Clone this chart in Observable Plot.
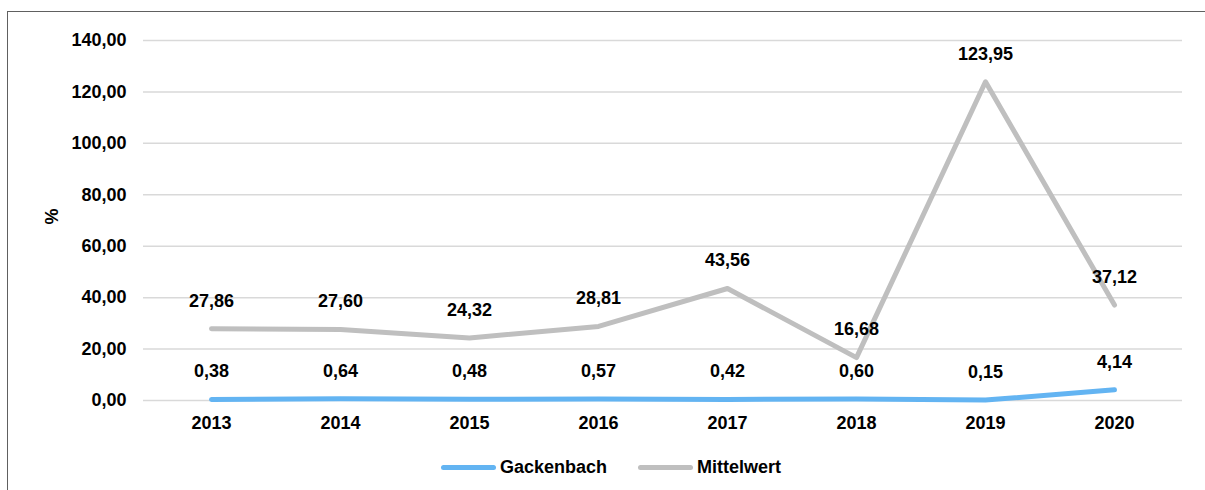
<!DOCTYPE html>
<html>
<head>
<meta charset="utf-8">
<script src="https://cdn.jsdelivr.net/npm/d3@7"></script>
<script src="https://cdn.jsdelivr.net/npm/@observablehq/plot@0.6"></script>
<style>
  html, body { margin: 0; padding: 0; background: #fff; overflow: hidden; }
  body { width: 1205px; height: 490px; position: relative;
         font-family: "Liberation Sans", Arial, sans-serif; }
  #frame { position: absolute; left: 7px; top: 11px; width: 1198px; height: 479px;
           box-shadow: inset 1px 1px 0 #606060; }
  #chart { position: absolute; left: 0; top: 0; }
  #legend { position: absolute; top: 456px; left: 0; width: 1205px; height: 22px; }
  .item { position: absolute; top: 0; display: flex; align-items: center; height: 22px;
          font-weight: bold; font-size: 18px; color: #000; }
  .swatch { width: 55px; height: 5px; border-radius: 3px; margin-right: 4px; }
</style>
</head>
<body>
<div id="frame"></div>
<div id="chart"></div>
<div id="legend"></div>
<script>
const years = ["2013", "2014", "2015", "2016", "2017", "2018", "2019", "2020"];
const gackenbach = [0.38, 0.64, 0.48, 0.57, 0.42, 0.60, 0.15, 4.14];
const mittelwert = [27.86, 27.60, 24.32, 28.81, 43.56, 16.68, 123.95, 37.12];
const yTicks = [0, 20, 40, 60, 80, 100, 120, 140];
const seriesNames = ["Gackenbach", "Mittelwert"];
const seriesColors = ["#63b4f2", "#bfbfbf"];
const yLabel = "%";

const fmt = v => d3.format(".2f")(v).replace(".", ",");

const rows = [];
years.forEach((y, i) => {
  rows.push({year: y, value: mittelwert[i], series: "Mittelwert"});
});
years.forEach((y, i) => {
  rows.push({year: y, value: gackenbach[i], series: "Gackenbach"});
});

const chart = Plot.plot({
  width: 1205,
  height: 440,
  marginLeft: 143,
  marginRight: 23,
  marginTop: 40,
  marginBottom: 40,
  style: {fontFamily: "'Liberation Sans', Arial, sans-serif", fontSize: "18px", fontWeight: "bold", color: "#000", background: "transparent"},
  x: {type: "point", domain: years, padding: 0.5, label: null},
  y: {domain: [0, 140], ticks: yTicks, label: null, tickFormat: fmt},
  color: {domain: seriesNames, range: seriesColors},
  marks: [
    Plot.ruleY(yTicks, {stroke: "#d9d9d9", strokeWidth: 1.5}),
    Plot.axisY({ticks: yTicks, tickSize: 0, tickPadding: 17, tickFormat: fmt, label: null, fontSize: 18, fontWeight: "bold"}),
    Plot.axisX({tickSize: 0, tickPadding: 16, label: null, fontSize: 18, fontWeight: "bold"}),
    Plot.text([yLabel], {frameAnchor: "left", dx: -91, dy: 4, rotate: -90, fontSize: 18, fontWeight: "bold", fill: "#000"}),
    Plot.line(rows.filter(d => d.series === "Mittelwert"), {x: "year", y: "value", stroke: "series", strokeWidth: 5, strokeLinecap: "round", strokeLinejoin: "round"}),
    Plot.line(rows.filter(d => d.series === "Gackenbach"), {x: "year", y: "value", stroke: "series", strokeWidth: 5, strokeLinecap: "round", strokeLinejoin: "round"}),
    Plot.text(rows, {x: "year", y: "value", text: d => fmt(d.value), dy: -28, fontSize: 18, fontWeight: "bold", fill: "#000"})
  ]
});
document.getElementById("chart").appendChild(chart);

const legend = document.getElementById("legend");
const lefts = [441, 638];
seriesNames.forEach((name, i) => {
  const item = document.createElement("div");
  item.className = "item";
  item.style.left = lefts[i] + "px";
  const sw = document.createElement("div");
  sw.className = "swatch";
  sw.style.background = seriesColors[i];
  const label = document.createElement("span");
  label.textContent = name;
  item.appendChild(sw);
  item.appendChild(label);
  legend.appendChild(item);
});
</script>
</body>
</html>
